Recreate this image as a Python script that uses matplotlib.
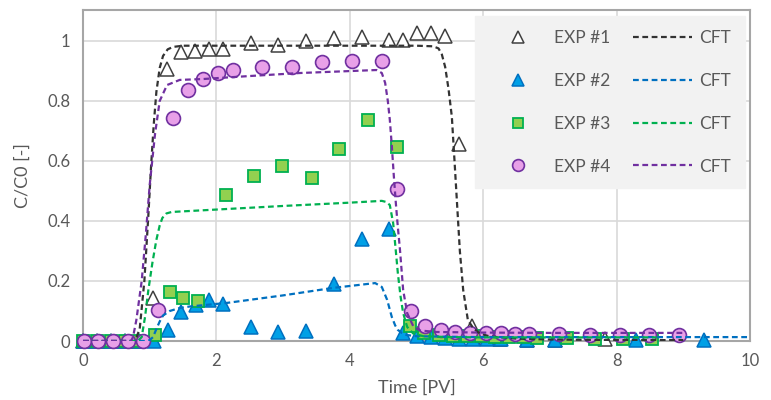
import matplotlib
matplotlib.use("Agg")
import matplotlib.pyplot as plt

# experimental data
exp1_x = [0, 0.21, 0.42, 0.63, 0.84, 1.05, 1.26, 1.47, 1.68, 1.89, 2.10, 2.52, 2.92, 3.34, 3.76, 4.18,
          4.59, 4.80, 5.01, 5.22, 5.43, 5.64, 5.83, 6.04, 6.25, 6.66, 7.07, 7.83]
exp1_y = [0, 0, 0, 0, 0, 0.143, 0.907, 0.963, 0.967, 0.973, 0.973, 0.993, 0.987, 1.0, 1.01, 1.013,
          1.003, 1.003, 1.027, 1.027, 1.017, 0.657, 0.05, 0.01, 0.005, 0.003, 0.003, 0.005]

exp2_x = [0, 0.21, 0.42, 0.63, 0.84, 1.06, 1.27, 1.47, 1.69, 1.89, 2.10, 2.52, 2.92, 3.34, 3.76, 4.18,
          4.59, 4.80, 5.01, 5.22, 5.43, 5.64, 5.85, 6.06, 6.27, 6.66, 7.07, 8.29, 9.31]
exp2_y = [0, 0, 0, 0, 0, 0.0, 0.037, 0.097, 0.12, 0.137, 0.123, 0.047, 0.03, 0.033, 0.19, 0.34,
          0.373, 0.027, 0.017, 0.012, 0.01, 0.008, 0.007, 0.006, 0.005, 0.003, 0.003, 0.003, 0.003]

exp3_x = [0, 0.21, 0.42, 0.63, 0.84, 1.08, 1.30, 1.50, 1.72, 2.14, 2.57, 2.99, 3.43, 3.84, 4.27, 4.71,
          4.90, 5.11, 5.34, 5.55, 5.76, 5.97, 6.18, 6.39, 6.60, 6.81, 7.26, 7.68, 8.10, 8.53]
exp3_y = [0, 0, 0, 0, 0, 0.02, 0.163, 0.143, 0.133, 0.487, 0.55, 0.583, 0.543, 0.64, 0.737, 0.647,
          0.05, 0.027, 0.02, 0.017, 0.015, 0.015, 0.013, 0.012, 0.012, 0.01, 0.01, 0.008, 0.008, 0.005]

exp4_x = [0.01, 0.22, 0.45, 0.67, 0.90, 1.12, 1.35, 1.57, 1.80, 2.02, 2.25, 2.68, 3.13, 3.58, 4.03, 4.48,
          4.71, 4.92, 5.13, 5.37, 5.58, 5.80, 6.04, 6.27, 6.48, 6.69, 7.14, 7.60, 8.05, 8.49, 8.94]
exp4_y = [0, 0, 0, 0, 0, 0.103, 0.743, 0.837, 0.873, 0.893, 0.903, 0.913, 0.913, 0.93, 0.933, 0.933,
          0.507, 0.1, 0.05, 0.037, 0.03, 0.027, 0.025, 0.025, 0.023, 0.022, 0.022, 0.02, 0.02, 0.02, 0.02]

# CFT curves
cft1_x = [0, 0.78, 0.85, 0.92, 0.98, 1.02, 1.06, 1.10, 1.15, 1.20, 1.27, 1.35, 1.5, 2, 3, 4, 5, 5.25,
          5.33, 5.38, 5.43, 5.48, 5.53, 5.57, 5.61, 5.65, 5.70, 5.77, 5.85, 5.95, 6.1, 6.5, 7, 8, 9]
cft1_y = [0, 0, 0.04, 0.2, 0.42, 0.58, 0.72, 0.83, 0.91, 0.95, 0.972, 0.98, 0.984, 0.984, 0.984, 0.984,
          0.984, 0.982, 0.975, 0.955, 0.913, 0.84, 0.747, 0.6, 0.45, 0.3, 0.17, 0.07, 0.043, 0.025,
          0.015, 0.008, 0.005, 0.003, 0.003]

cft2_x = [0, 0.95, 1.0, 1.05, 1.1, 1.15, 1.2, 1.3, 1.45, 1.6, 2.16, 3.0, 3.75, 4.38, 4.48, 4.56, 4.63,
          4.68, 4.72, 4.78, 4.85, 5.0, 5.5, 6, 7, 8, 9, 10]
cft2_y = [0, 0, 0.003, 0.013, 0.04, 0.065, 0.085, 0.1, 0.11, 0.115, 0.127, 0.152, 0.177, 0.193, 0.18,
          0.137, 0.08, 0.052, 0.037, 0.027, 0.02, 0.016, 0.014, 0.013, 0.013, 0.013, 0.013, 0.013]

cft3_x = [0, 0.82, 0.88, 0.93, 0.98, 1.04, 1.10, 1.15, 1.19, 1.25, 1.33, 2, 3, 4, 4.48, 4.55, 4.60,
          4.65, 4.69, 4.72, 4.76, 4.80, 4.86, 4.95, 5.1, 5.5, 6, 7, 8, 8.6]
cft3_y = [0, 0, 0.013, 0.08, 0.17, 0.26, 0.337, 0.385, 0.41, 0.425, 0.43, 0.438, 0.45, 0.461, 0.467,
          0.463, 0.453, 0.393, 0.3, 0.227, 0.15, 0.093, 0.047, 0.025, 0.016, 0.013, 0.012, 0.012, 0.012, 0.012]

cft4_x = [0, 0.72, 0.75, 0.80, 0.88, 0.94, 1.0, 1.08, 1.15, 1.26, 1.45, 1.8, 2.5, 3.25, 4.4, 4.48,
          4.53, 4.57, 4.60, 4.63, 4.66, 4.69, 4.72, 4.75, 4.80, 4.86, 4.95, 5.05, 5.3, 6, 7, 8, 9]
cft4_y = [0, 0, 0.013, 0.07, 0.2, 0.35, 0.52, 0.69, 0.80, 0.853, 0.87, 0.873, 0.883, 0.893, 0.903,
          0.893, 0.86, 0.8, 0.737, 0.65, 0.55, 0.46, 0.38, 0.31, 0.17, 0.093, 0.05, 0.035, 0.03,
          0.028, 0.027, 0.027, 0.027]

plt.rcParams["font.family"] = ["Lato", "DejaVu Sans"]
grey = "#595959"

fig = plt.figure(figsize=(7.71, 4.0), dpi=100)
ax = fig.add_axes([83 / 771, 1 - 341 / 400, 667 / 771, 331 / 400])

dash = (0, (2.6, 1.6))
ms = 10

e1, = ax.plot(exp1_x, exp1_y, ls="none", marker="^", ms=ms, mfc="white", mec="#404040", mew=1.1,
              clip_on=False, zorder=3, label="EXP #1")
e2, = ax.plot(exp2_x, exp2_y, ls="none", marker="^", ms=ms, mfc="#00a0e6", mec="#0070c0", mew=1.1,
              clip_on=False, zorder=3, label="EXP #2")
e3, = ax.plot(exp3_x, exp3_y, ls="none", marker="s", ms=ms - 1, mfc="#92d050", mec="#00b050", mew=1.3,
              clip_on=False, zorder=3, label="EXP #3")
e4, = ax.plot(exp4_x, exp4_y, ls="none", marker="o", ms=ms, mfc="#e8a0e8", mec="#7030a0", mew=1.2,
              clip_on=False, zorder=3, label="EXP #4")

c1, = ax.plot(cft1_x, cft1_y, ls=dash, lw=1.6, color="#333333", zorder=4, label="CFT")
c2, = ax.plot(cft2_x, cft2_y, ls=dash, lw=1.6, color="#0070c0", zorder=4, label="CFT")
c3, = ax.plot(cft3_x, cft3_y, ls=dash, lw=1.6, color="#00b050", zorder=4, label="CFT")
c4, = ax.plot(cft4_x, cft4_y, ls=dash, lw=1.6, color="#7030a0", zorder=4, label="CFT")

ax.set_xlim(0, 10)
ax.set_ylim(0, 1.103)
ax.set_xticks([0, 2, 4, 6, 8, 10])
ax.set_yticks([0, 0.2, 0.4, 0.6, 0.8, 1.0])
ax.set_yticklabels(["0", "0.2", "0.4", "0.6", "0.8", "1"])
ax.grid(True, color="#d9d9d9", lw=1.2)
ax.set_axisbelow(True)
ax.tick_params(length=0, labelsize=12, colors=grey, pad=9)
for s in ax.spines.values():
    s.set_color("#a6a6a6")
    s.set_linewidth(1.5)

ax.set_xlabel("Time [PV]", fontsize=13, color=grey, labelpad=7)
ax.set_ylabel("C/C0 [-]", fontsize=13, color=grey, labelpad=12)

leg = ax.legend(handles=[e1, e2, e3, e4, c1, c2, c3, c4], ncol=2, loc="upper right",
                bbox_to_anchor=(0.9925, 0.982), borderaxespad=0, frameon=True, fancybox=False,
                facecolor="#f2f2f2", edgecolor="#f2f2f2", framealpha=1, fontsize=12.5,
                handlelength=3.4, handletextpad=0.4, columnspacing=1.3, labelspacing=1.55,
                borderpad=0.8, markerscale=0.85)
for t in leg.get_texts():
    t.set_color(grey)
leg.set_zorder(5)

fig.savefig("out.png", dpi=100)
